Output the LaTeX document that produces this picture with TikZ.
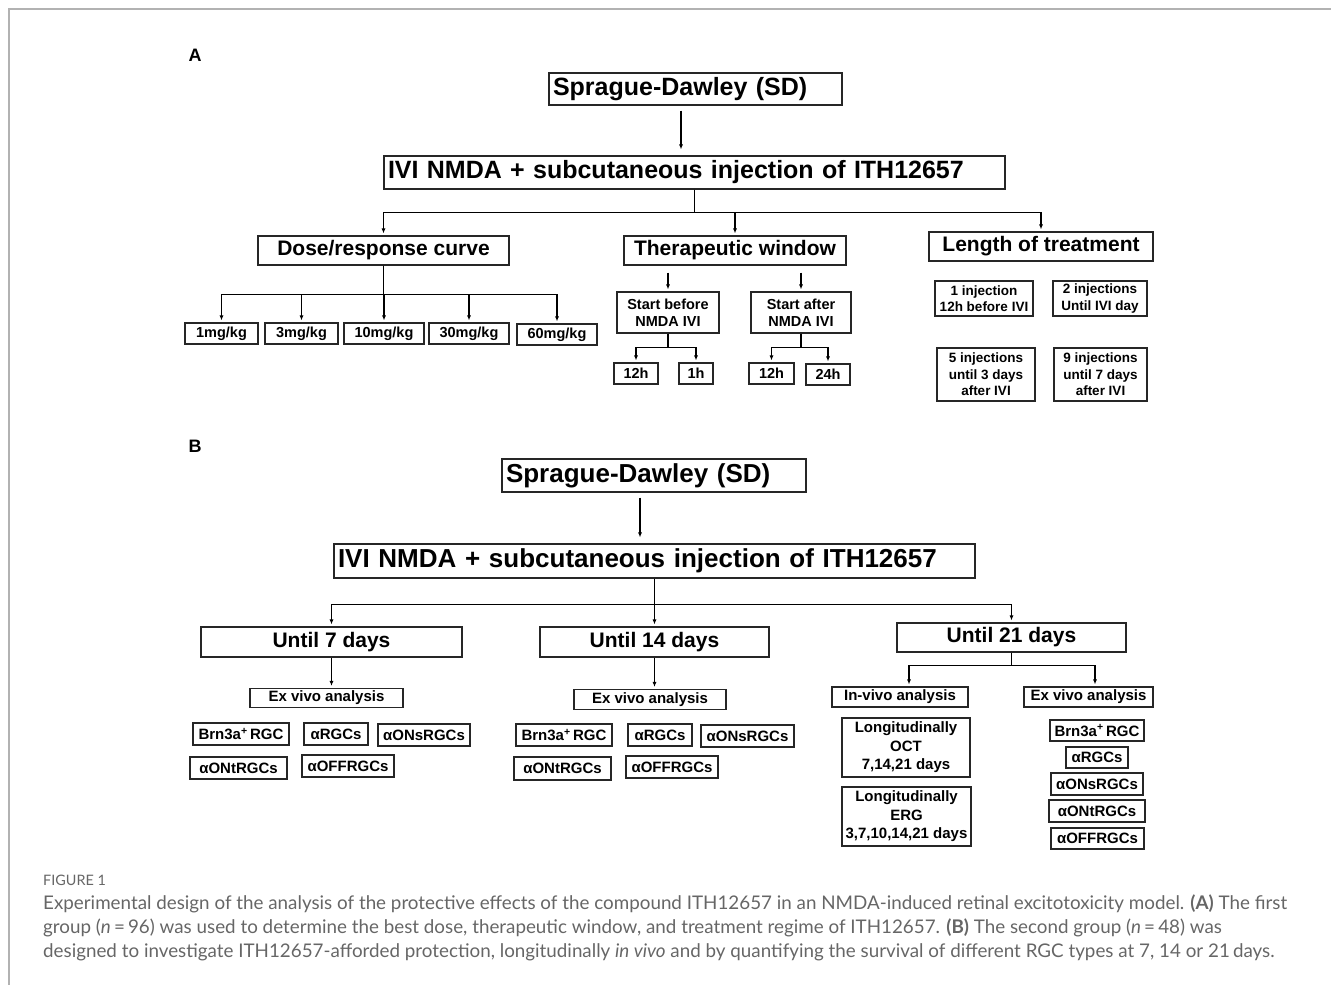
\documentclass[tikz,border=0pt]{standalone}
\usepackage{fontspec}
\setmainfont{Liberation Sans}
\newfontfamily\capfont{Lato}
\usetikzlibrary{arrows.meta}

\begin{document}
\begin{tikzpicture}
  [x=1pt,y=-1pt,every node/.style={inner sep=0pt},
   box/.style 2 args={draw=black!85,line width=1.1pt,minimum width=#1,minimum height=#2,align=center},
   lbox/.style 2 args={draw=black!85,line width=1.1pt,inner xsep=4pt,text width=#1,minimum height=#2,align=left},
   fbig/.style={font=\bfseries\fontsize{25}{30}\selectfont},
   fmid/.style={font=\bfseries\fontsize{21}{25}\selectfont},
   fsm/.style={font=\bfseries\fontsize{14.5}{17}\selectfont},
   arr/.style={line width=1.1pt,-{Latex[length=5pt,width=4pt]},shorten >=2pt},
   captxt/.style={font=\capfont\fontsize{18.8}{22}\selectfont,text=black!60,anchor=west}]
  \useasboundingbox (0,0) rectangle (1331,985);
  \draw[black!30,line width=1.5pt] (9,985) -- (9,9) -- (1331,9);

  % panel A
  \node[fbig,font=\bfseries\fontsize{18}{20}\selectfont] (labA) at (195,55) {A};
  \node[lbox={285pt}{32pt},fbig] (sd1) at (695.5,89) {Sprague-Dawley (SD)};
  \node[lbox={613pt}{33pt},fbig] (ivi1) at (694.5,172.5) {IVI NMDA + subcutaneous injection of ITH12657};
  \node[box={251pt}{29pt},fmid] (dose) at (383.5,250.5) {Dose/response curve};
  \node[box={222pt}{29pt},fmid] (ther) at (735,250.5) {Therapeutic window};
  \node[box={224pt}{29pt},fmid] (len) at (1041,246.5) {Length of treatment};
  \node[box={73pt}{21pt},fsm] (d1) at (221.5,333.5) {1mg/kg};
  \node[box={73pt}{21pt},fsm] (d3) at (301.5,333.5) {3mg/kg};
  \node[box={80pt}{21pt},fsm] (d10) at (384,333.5) {10mg/kg};
  \node[box={80pt}{21pt},fsm] (d30) at (469,333.5) {30mg/kg};
  \node[box={80pt}{21pt},fsm] (d60) at (557,334.5) {60mg/kg};
  \node[box={102pt}{41pt},fsm] (sb) at (668,312.5) {Start before\\NMDA IVI};
  \node[box={100pt}{41pt},fsm] (sa) at (801,312.5) {Start after\\NMDA IVI};
  \node[box={44pt}{21pt},fsm] (t12a) at (636,373.5) {12h};
  \node[box={34pt}{21pt},fsm] (t1) at (696,373.5) {1h};
  \node[box={45pt}{21pt},fsm] (t12b) at (771.5,373.5) {12h};
  \node[box={44pt}{21pt},fsm] (t24) at (828,374.5) {24h};
  \node[box={98pt}{35pt},fsm,font=\bfseries\fontsize{13.5}{16.5}\selectfont] (l1) at (984,298.5) {1 injection\\12h before IVI};
  \node[box={94pt}{35pt},fsm,font=\bfseries\fontsize{13.5}{16.5}\selectfont] (l2) at (1100,298.5) {2 injections\\Until IVI day};
  \node[box={98pt}{53pt},fsm,font=\bfseries\fontsize{13.5}{16.5}\selectfont] (l5) at (986,374.5) {5 injections\\until 3 days\\after IVI};
  \node[box={93pt}{53pt},fsm,font=\bfseries\fontsize{13.5}{16.5}\selectfont] (l9) at (1100.5,374.5) {9 injections\\until 7 days\\after IVI};

  \draw[arr,shorten <=5pt,shorten >=6pt] ([xshift=-14.5pt]sd1.south) -- ([xshift=-14.5pt]sd1.south |- ivi1.north);
  \foreach \to in {dose,ther,len}
    \draw[arr] (ivi1.south) -- ++(0,23) -| (\to.north);
  \foreach \to in {d1,d3,d10,d30,d60}
    \draw[arr] (dose.south) -- ++(0,29) -| (\to.north);
  \foreach \to in {sb,sa}
    \draw[arr] ([yshift=-7pt]ther.south -| \to.north) -- (\to.north);
  \foreach \from/\to in {sb/t12a,sb/t1,sa/t12b,sa/t24}
    \draw[arr] (\from.south) -- ++(0,14) -| (\to.north);

  % panel B
  \node[fbig,font=\bfseries\fontsize{18}{20}\selectfont] (labB) at (195,446) {B};
  \node[lbox={296pt}{33pt},fbig,font=\bfseries\fontsize{26}{30}\selectfont] (sd2) at (654,475.5) {Sprague-Dawley (SD)};
  \node[lbox={633pt}{34pt},fbig,font=\bfseries\fontsize{26}{30}\selectfont] (ivi2) at (654.5,561) {IVI NMDA + subcutaneous injection of ITH12657};
  \node[box={261pt}{30pt},fmid] (u7) at (331.5,642) {Until 7 days};
  \node[box={229pt}{30pt},fmid] (u14) at (654.5,642) {Until 14 days};
  \node[box={229pt}{29pt},fmid] (u21) at (1011.5,637.5) {Until 21 days};
  \node[box={153pt}{19pt},fsm,font=\bfseries\fontsize{15}{18}\selectfont] (ex7) at (326.5,698) {Ex vivo analysis};
  \node[box={152pt}{20pt},fsm,font=\bfseries\fontsize{15}{18}\selectfont] (ex14) at (650,699.5) {Ex vivo analysis};
  \node[box={136pt}{20pt},fsm,font=\bfseries\fontsize{15}{18}\selectfont] (invivo) at (900,697) {In-vivo analysis};
  \node[box={129pt}{20pt},fsm,font=\bfseries\fontsize{15}{18}\selectfont] (ex21) at (1088.5,697) {Ex vivo analysis};

  \node[box={96pt}{22pt},fsm,font=\bfseries\fontsize{15}{18}\selectfont] (b7) at (241,734) {Brn3a\textsuperscript{+}\,RGC};
  \node[box={64pt}{22pt},fsm,font=\bfseries\fontsize{15}{18}\selectfont] (r7) at (336,734) {αRGCs};
  \node[box={92pt}{22pt},fsm,font=\bfseries\fontsize{15}{18}\selectfont] (ons7) at (424,735) {αONsRGCs};
  \node[box={97pt}{22pt},fsm,font=\bfseries\fontsize{15}{18}\selectfont] (ont7) at (238.5,768) {αONtRGCs};
  \node[box={92pt}{22pt},fsm,font=\bfseries\fontsize{15}{18}\selectfont] (off7) at (348,766) {αOFFRGCs};

  \node[box={96pt}{22pt},fsm,font=\bfseries\fontsize{15}{18}\selectfont] (b14) at (564,735) {Brn3a\textsuperscript{+}\,RGC};
  \node[box={64pt}{22pt},fsm,font=\bfseries\fontsize{15}{18}\selectfont] (r14) at (660,735) {αRGCs};
  \node[box={93pt}{22pt},fsm,font=\bfseries\fontsize{15}{18}\selectfont] (ons14) at (747.5,736) {αONsRGCs};
  \node[box={97pt}{23pt},fsm,font=\bfseries\fontsize{15}{18}\selectfont] (ont14) at (562.5,768.5) {αONtRGCs};
  \node[box={92pt}{22pt},fsm,font=\bfseries\fontsize{15}{18}\selectfont] (off14) at (672,767) {αOFFRGCs};

  \node[box={128pt}{59pt},fsm,font=\bfseries\fontsize{15}{18.5}\selectfont] (oct) at (906,747.5) {Longitudinally\\OCT\\7,14,21 days};
  \node[box={129pt}{59pt},fsm,font=\bfseries\fontsize{15}{18.5}\selectfont] (erg) at (906.5,816.5) {Longitudinally\\ERG\\3,7,10,14,21 days};

  \node[box={94pt}{21pt},fsm,font=\bfseries\fontsize{15}{18}\selectfont] (rb) at (1097,730.5) {Brn3a\textsuperscript{+}\,RGC};
  \node[box={62pt}{21pt},fsm,font=\bfseries\fontsize{15}{18}\selectfont] (rr) at (1097,757.5) {αRGCs};
  \node[box={92pt}{22pt},fsm,font=\bfseries\fontsize{15}{18}\selectfont] (rons) at (1097,784) {αONsRGCs};
  \node[box={96pt}{22pt},fsm,font=\bfseries\fontsize{15}{18}\selectfont] (ront) at (1097,811) {αONtRGCs};
  \node[box={93pt}{21pt},fsm,font=\bfseries\fontsize{15}{18}\selectfont] (roff) at (1097.5,838.5) {αOFFRGCs};

  \draw[arr,shorten <=5pt,shorten >=6pt] ([xshift=-14pt]sd2.south) -- ([xshift=-14pt]sd2.south |- ivi2.north);
  \foreach \to in {u7,u14,u21}
    \draw[arr] (ivi2.south) -- ++(0,26) -| (\to.north);
  \foreach \from/\to in {u7/ex7,u14/ex14}
    \draw[arr] (\from.south) -- (\from.south |- \to.north);
  \draw[arr] (u21.south) -- ++(0,13) -| ([xshift=9pt]invivo.north);
  \draw[arr] (u21.south) -- ++(0,13) -| ([xshift=6.5pt]ex21.north);

  % caption
  \node[captxt,font=\capfont\fontsize{14.4}{16}\selectfont] (fig) at (43,880) {FIGURE 1};
  \node[captxt] (c1) at (43,904) {Experimental design of the analysis of the protective effects of the compound ITH12657 in an NMDA-induced retinal excitotoxicity model. \textbf{(A)} The first};
  \node[captxt] (c2) at (43,928) {group (\textit{n}\,=\,96) was used to determine the best dose, therapeutic window, and treatment regime of ITH12657. \textbf{(B)} The second group (\textit{n}\,=\,48) was};
  \node[captxt] (c3) at (43,952) {designed to investigate ITH12657-afforded protection, longitudinally \textit{in vivo} and by quantifying the survival of different RGC types at 7, 14 or 21\,days.};
\end{tikzpicture}
\end{document}
